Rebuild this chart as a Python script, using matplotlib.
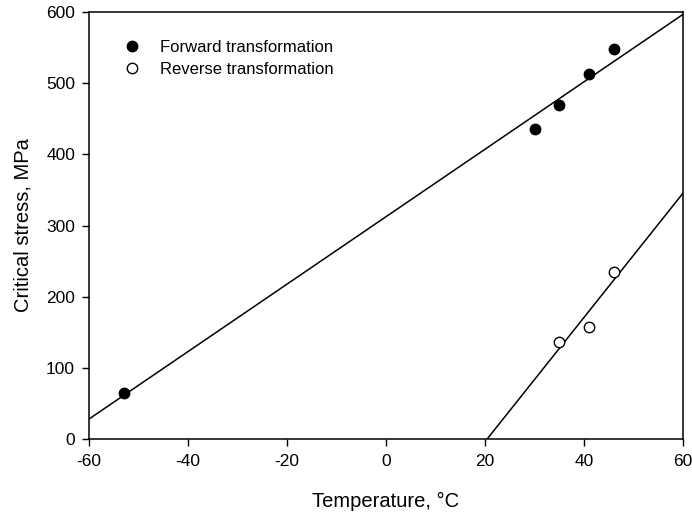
import numpy as np
import matplotlib
matplotlib.use('Agg')
import matplotlib.pyplot as plt

plt.rcParams['font.family'] = ['Liberation Sans', 'DejaVu Sans']
plt.rcParams['axes.unicode_minus'] = False

fwd_T = [-53, 30, 35, 41, 46]
fwd_S = [65, 435, 470, 513, 548]
rev_T = [35, 41, 46]
rev_S = [137, 158, 235]

fig = plt.figure(figsize=(6.92, 5.13), dpi=100)
ax = fig.add_axes([0.1286, 0.1442, 0.8584, 0.8324])

# regression lines
kf = np.polyfit(fwd_T, fwd_S, 1)
kr = np.polyfit(rev_T, rev_S, 1)
xs = np.array([-60, 60])
ax.plot(xs, np.polyval(kf, xs), color='black', lw=1.1)
xr = np.array([-kr[1] / kr[0], 60])
ax.plot(xr, np.polyval(kr, xr), color='black', lw=1.1)

ax.plot(fwd_T, fwd_S, 'o', color='black', ms=7.5, label='Forward transformation')
ax.plot(rev_T, rev_S, 'o', mfc='white', mec='black', mew=1.0, ms=7.5,
        label='Reverse transformation')

ax.set_xlim(-60, 60)
ax.set_ylim(0, 600)
ax.set_xticks(range(-60, 61, 20))
ax.set_yticks(range(0, 601, 100))
ax.tick_params(direction='out', length=5, labelsize=12.5, width=1)
ax.tick_params(axis='x', pad=6)
ax.tick_params(axis='y', pad=5)
for s in ax.spines.values():
    s.set_linewidth(1.1)

ax.set_xlabel('Temperature, \u00b0C', fontsize=14.5, labelpad=16)
ax.set_ylabel('Critical stress, MPa', fontsize=14.5, labelpad=10)

ax.legend(loc='upper left', frameon=False, fontsize=12, bbox_to_anchor=(0.03, 0.97),
          handletextpad=1.1, labelspacing=0.45, handlelength=1.2)

fig.savefig('out.png', dpi=100)
